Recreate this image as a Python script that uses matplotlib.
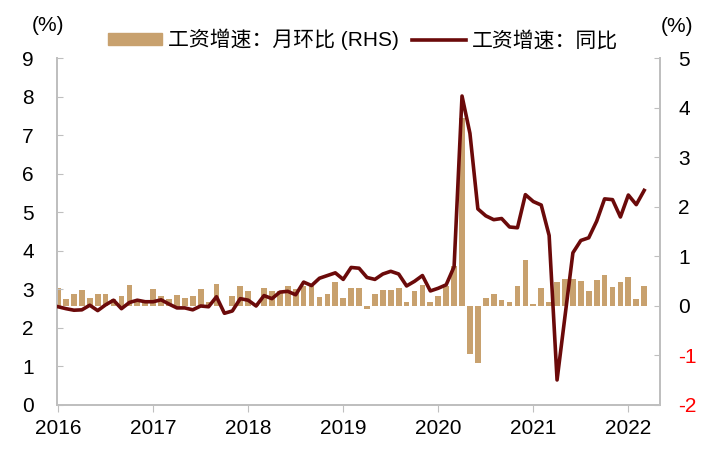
import numpy as np
import matplotlib
matplotlib.use("Agg")
import matplotlib.pyplot as plt
from matplotlib.patches import Patch
from matplotlib.lines import Line2D

plt.rcParams['font.family'] = ['Liberation Sans', 'Noto Sans CJK SC', 'DejaVu Sans']
plt.rcParams['axes.unicode_minus'] = False

# monthly, 2016-01 .. 2022-03
yoy = [2.55, 2.50, 2.46, 2.47, 2.59, 2.45, 2.60, 2.72, 2.50, 2.66, 2.72, 2.68,
       2.68, 2.73, 2.62, 2.52, 2.52, 2.47, 2.57, 2.55, 2.81, 2.38, 2.44, 2.76,
       2.72, 2.57, 2.84, 2.76, 2.93, 2.95, 2.86, 3.19, 3.10, 3.29, 3.36, 3.43,
       3.26, 3.57, 3.55, 3.31, 3.26, 3.40, 3.47, 3.40, 3.09, 3.21, 3.36, 2.96,
       3.03, 3.12, 3.59, 8.02, 7.05, 5.09, 4.91, 4.81, 4.84, 4.62, 4.60, 5.46,
       5.28, 5.19, 4.40, 0.65, 2.30, 3.95, 4.27, 4.34, 4.77, 5.35, 5.33, 4.88,
       5.45, 5.20, 5.57]
mom = [0.36, 0.13, 0.24, 0.32, 0.16, 0.24, 0.24, 0.13, 0.20, 0.43, 0.12, 0.12,
       0.35, 0.20, 0.13, 0.23, 0.16, 0.20, 0.35, 0.08, 0.45, 0.00, 0.20, 0.41,
       0.31, 0.02, 0.37, 0.30, 0.31, 0.40, 0.35, 0.40, 0.40, 0.19, 0.25, 0.48,
       0.15, 0.37, 0.37, -0.07, 0.25, 0.33, 0.33, 0.36, 0.08, 0.30, 0.43, 0.08,
       0.21, 0.40, 0.80, 3.80, -0.98, -1.16, 0.17, 0.25, 0.11, 0.08, 0.41, 0.92,
       0.03, 0.37, 0.08, 0.48, 0.54, 0.54, 0.50, 0.30, 0.53, 0.62, 0.39, 0.49,
       0.58, 0.13, 0.41]
years = ['2016', '2017', '2018', '2019', '2020', '2021', '2022']

x = np.arange(len(yoy))
bar_c = '#C8A16E'
line_c = '#6B0A0A'
grey = '#BFBFBF'
fs = 15

fig = plt.figure(figsize=(7.11, 4.55), dpi=100)
ax = fig.add_axes([0.0806, 0.1099, 0.8477, 0.7621])
ax2 = ax.twinx()

ax2.bar(x, mom, width=0.72, color=bar_c, zorder=2)
ax.plot(x, yoy, color=line_c, lw=2.6, zorder=3)
ax.set_zorder(ax2.get_zorder() + 1)
ax.patch.set_visible(False)

ax.set_xlim(-0.1, 76)
ax.set_ylim(0, 9)
ax2.set_ylim(-2, 5)
ax.set_yticks(range(0, 10))
ax2.set_yticks(range(-2, 6))
ax.set_xticks(np.arange(len(years)) * 12)
ax.set_xticklabels(years)

for a in (ax, ax2):
    a.spines['top'].set_visible(False)
    for s in ('left', 'right', 'bottom'):
        a.spines[s].set_color(grey)
        a.spines[s].set_linewidth(1.3)
ax.tick_params(axis='y', direction='in', length=4, color=grey, labelsize=fs, pad=17)
ax.tick_params(axis='x', direction='out', length=5, color=grey, labelsize=fs, pad=5)
ax2.tick_params(axis='y', direction='in', length=4, color=grey, labelsize=fs, pad=13)
for t, v in zip(ax2.get_yticklabels(), range(-2, 6)):
    if v < 0:
        t.set_color('red')

fig.text(0.068, 0.945, '(%)', ha='center', va='center', fontsize=fs)
fig.text(0.952, 0.942, '(%)', ha='center', va='center', fontsize=fs)

handles = [Patch(color=bar_c), Line2D([0], [0], color=line_c, lw=2.6)]
labels = ['工资增速：月环比 (RHS)', '工资增速：同比']
fig.legend(handles, labels, loc='center', bbox_to_anchor=(0.5105, 0.913), ncol=2,
           frameon=False, fontsize=fs, handlelength=2.6, handleheight=0.55,
           handletextpad=0.3, columnspacing=0.6, borderaxespad=0, borderpad=0)

fig.savefig('out.png', dpi=100)
